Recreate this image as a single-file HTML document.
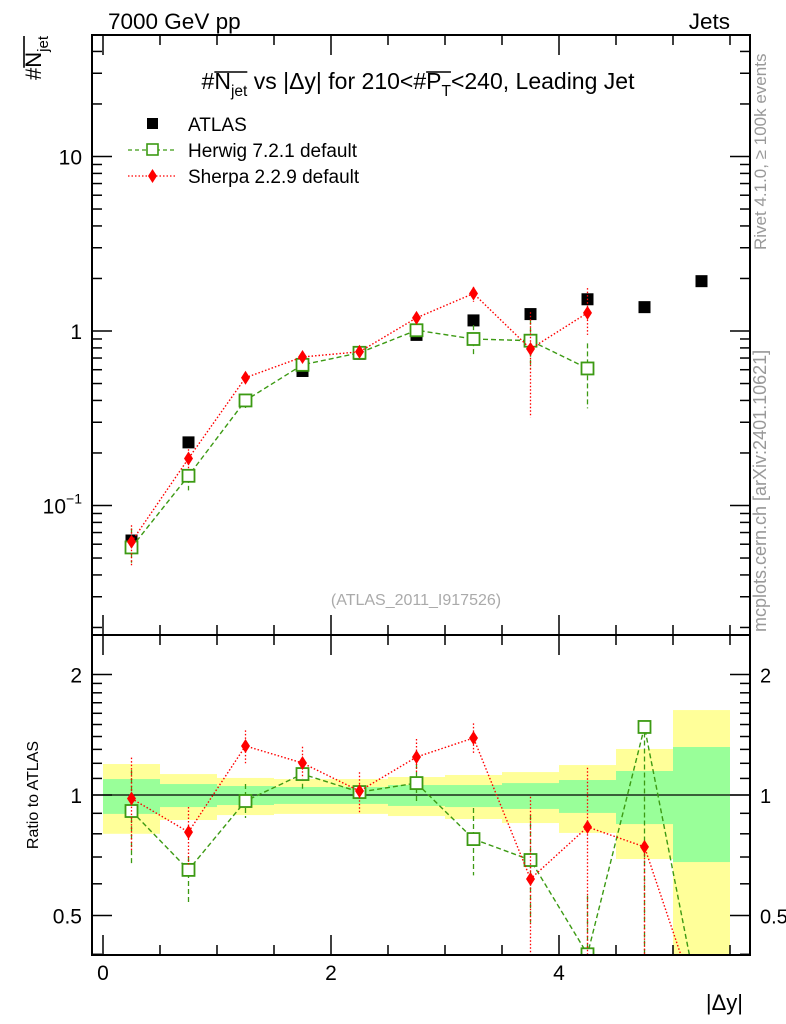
<!DOCTYPE html>
<html><head><meta charset="utf-8"><style>
body{margin:0;background:#fff}
svg{display:block;font-family:"Liberation Sans",sans-serif}
</style></head><body>
<svg id="c" width="786" height="1024" viewBox="0 0 786 1024" xmlns="http://www.w3.org/2000/svg">
<defs>
<clipPath id="cm"><rect x="92" y="35" width="658" height="600"/></clipPath>
<clipPath id="cr"><rect x="92" y="635" width="658" height="320"/></clipPath>
</defs>
<g id="bands" clip-path="url(#cr)"></g>
<g id="main" clip-path="url(#cm)"></g>
<g id="ratio" clip-path="url(#cr)"></g>
<g id="axes"></g>
<text x="108" y="29" font-size="22.5">7000 GeV pp</text>
<text x="730" y="29" font-size="22.5" text-anchor="end">Jets</text>
<text id="title" x="418" y="89" font-size="23" text-anchor="middle">#<tspan class="ol">N</tspan><tspan font-size="15.5" dy="7">jet</tspan><tspan dy="-7"> vs |Δy| for 210&lt;#</tspan><tspan class="ol">P</tspan><tspan font-size="15.5" dy="7">T</tspan><tspan dy="-7">&lt;240, Leading Jet</tspan></text>
<text id="ytitle" transform="translate(41,80) rotate(-90)" font-size="22">#<tspan class="ol">N</tspan><tspan font-size="15" dy="7">jet</tspan></text>
<text transform="translate(38,795) rotate(-90)" font-size="16" text-anchor="middle">Ratio to ATLAS</text>
<text x="743" y="1010" font-size="22" text-anchor="end">|Δy|</text>
<text transform="translate(766,250) rotate(-90)" font-size="17" fill="#999">Rivet 4.1.0, ≥ 100k events</text>
<text transform="translate(766,632) rotate(-90)" font-size="18" fill="#999">mcplots.cern.ch [arXiv:2401.10621]</text>
<text x="416" y="605" font-size="16" fill="#aaa" text-anchor="middle">(ATLAS_2011_I917526)</text>
<g>
<rect x="147" y="118" width="11" height="11" fill="#000"/>
<text x="188" y="131" font-size="19">ATLAS</text>
<line x1="128" y1="150" x2="176" y2="150" stroke="#3c9a13" stroke-width="1.3" stroke-dasharray="4,3"/>
<rect x="147" y="144" width="11" height="11" fill="#fff" stroke="#3c9a13" stroke-width="1.6"/>
<text x="188" y="157" font-size="19">Herwig 7.2.1 default</text>
<line x1="128" y1="176" x2="176" y2="176" stroke="#f00" stroke-width="1.3" stroke-dasharray="1.5,2"/>
<path d="M152.5 169 L157 176 L152.5 183 L148 176 Z" fill="#f00"/>
<text x="188" y="183" font-size="19">Sherpa 2.2.9 default</text>
</g>
</svg>
<script>
const xCenters=[0.25,0.75,1.25,1.75,2.25,2.75,3.25,3.75,4.25,4.75,5.25];
const binEdges=[0,0.5,1,1.5,2,2.5,3,3.5,4,4.5,5,5.5];
const atlasVals=[0.063,0.23,0.40,0.59,0.74,0.95,1.15,1.25,1.52,1.37,1.93];
const herwigVals=[0.0575,0.148,0.40,0.64,0.75,1.01,0.90,0.88,0.61];
const herwigHi=[0.074,0.16,0.43,0.67,0.80,1.05,1.08,1.16,0.85];
const herwigLo=[0.047,0.122,0.35,0.61,0.70,0.96,0.73,0.61,0.36];
const sherpaVals=[0.062,0.186,0.54,0.71,0.76,1.19,1.64,0.79,1.27];
const sherpaHi=[0.077,0.21,0.58,0.75,0.81,1.28,1.79,1.28,1.76];
const sherpaLo=[0.045,0.16,0.50,0.66,0.70,1.10,1.47,0.32,0.95];
const herwigRatio=[0.912,0.65,0.966,1.128,1.017,1.071,0.776,0.688,0.40,1.479,0.28];
const herwigRatioHi=[1.154,0.70,1.065,1.17,1.05,1.195,0.928,0.89,0.56,1.5,0.3];
const herwigRatioLo=[0.676,0.537,0.876,1.035,0.98,0.95,0.63,0.48,0.3,0.3,0.25];
const sherpaRatio=[0.98,0.808,1.326,1.202,1.023,1.244,1.388,0.617,0.832,0.742,0.28];
const sherpaRatioHi=[1.24,0.933,1.45,1.32,1.14,1.38,1.51,0.99,1.17,0.74,0.3];
const sherpaRatioLo=[0.72,0.67,1.2,1.1,0.9,1.13,1.26,0.3,0.3,0.3,0.25];
const yellowHi=[1.195,1.128,1.103,1.096,1.096,1.109,1.122,1.141,1.188,1.303,1.63];
const yellowLo=[0.80,0.866,0.891,0.897,0.897,0.886,0.871,0.851,0.804,0.692,0.3];
const greenHi=[1.096,1.065,1.053,1.047,1.047,1.059,1.059,1.071,1.09,1.148,1.318];
const greenLo=[0.897,0.933,0.944,0.95,0.95,0.939,0.933,0.923,0.902,0.846,0.68];
const xTickLabels=["0","2","4"];
const xTickVals=[0,2,4];
const yTickLabels=["10","1"];
const yTickVals=[10,1];
const ratioTickLabels=["2","1","0.5"];
const ratioTickVals=[2,1,0.5];

const NS="http://www.w3.org/2000/svg";
const X=v=>103+114*v;
const Y=v=>331-174.5*Math.log10(v);
const R=v=>795-120.5*Math.log2(v);
function mk(parent,tag,attrs){const e=document.createElementNS(NS,tag);for(const k in attrs)e.setAttribute(k,attrs[k]);(typeof parent==='string'?document.getElementById(parent):parent).appendChild(e);return e;}
const G="#3c9a13";
for(let i=0;i<yellowHi.length;i++){
 const x0=X(binEdges[i]),x1=X(binEdges[i+1]);
 let e=mk('bands','rect',{x:x0,y:R(yellowHi[i]),width:x1-x0,height:R(yellowLo[i])-R(yellowHi[i]),fill:'#ffff99'});
 
 
 e=mk('bands','rect',{x:x0,y:R(greenHi[i]),width:x1-x0,height:R(greenLo[i])-R(greenHi[i]),fill:'#99ff99'});
 
 
}
mk('bands','line',{x1:92,x2:750,y1:R(1),y2:R(1),stroke:'#000','stroke-width':1.3});
function series(g,vals,hi,lo,fy,col,dash,kind,name){
 const n=vals.length;
 let d='';for(let i=0;i<n;i++)d+=(i?'L':'M')+X(xCenters[i])+' '+fy(vals[i]);
 let p=mk(g,'path',{d:d,fill:'none',stroke:col,'stroke-width':1.4,'stroke-dasharray':dash});
 
 
 for(let i=0;i<n;i++){
  const x=X(xCenters[i]);
  let l=mk(g,'line',{x1:x,x2:x,y1:fy(hi[i]),y2:fy(lo[i]),stroke:col,'stroke-width':1.3,'stroke-dasharray':dash});
  
  
  const y=fy(vals[i]);
  let m;
  if(kind==='sq'){m=mk(g,'rect',{x:x-6,y:y-6,width:12,height:12,fill:'#fff',stroke:col,'stroke-width':1.8});}
  else {m=mk(g,'path',{d:`M${x} ${y-7}L${x+4.5} ${y}L${x} ${y+7}L${x-4.5} ${y}Z`,fill:col});}
  
  
 }
}
for(let i=0;i<atlasVals.length;i++){
 const e=mk('main','rect',{x:X(xCenters[i])-6,y:Y(atlasVals[i])-6,width:12,height:12,fill:'#000'});
 
 
}
series('main',herwigVals,herwigHi,herwigLo,Y,G,'5,3','sq','herwig');
series('main',sherpaVals,sherpaHi,sherpaLo,Y,'#f00','1.5,2','di','sherpa');
series('ratio',herwigRatio,herwigRatioHi,herwigRatioLo,R,G,'5,3','sq','herwig-ratio');
series('ratio',sherpaRatio,sherpaRatioHi,sherpaRatioLo,R,'#f00','1.5,2','di','sherpa-ratio');
let f=mk('axes','rect',{x:92,y:35,width:658,height:600,fill:'none',stroke:'#000','stroke-width':2});


f=mk('axes','rect',{x:92,y:635,width:658,height:320,fill:'none',stroke:'#000','stroke-width':2});


function tick(x1,y1,x2,y2){mk('axes','line',{x1,y1,x2,y2,stroke:'#000','stroke-width':1.5});}
for(let v=0;v<=5.5;v+=0.5){const x=X(v);const maj=(v%2===0);const L=maj?20:10;
 tick(x,955,x,955-L);tick(x,635,x,635-L);tick(x,635,x,635+L);tick(x,35,x,35+L);}
xTickVals.forEach((v,i)=>{const t=mk('axes','text',{x:X(v),y:980,'font-size':21,'text-anchor':'middle'});t.textContent=xTickLabels[i];
 
 });
for(let e=-2;e<=1;e++){for(let k=1;k<=9;k++){const v=k*Math.pow(10,e);const y=Y(v);if(y<35||y>635)continue;const L=k===1?20:10;
 tick(92,y,92+L,y);tick(750,y,750-L,y);}}
yTickVals.forEach((v,i)=>{const t=mk('axes','text',{x:82,y:Y(v)+8,'font-size':21,'text-anchor':'end'});t.textContent=yTickLabels[i];
 
 });
let t=mk('axes','text',{x:82,y:Y(0.1)+8,'font-size':21,'text-anchor':'end'});
t.innerHTML='10<tspan font-size="14" dy="-10">−1</tspan>';


[0.4,0.5,0.6,0.7,0.8,0.9,1,1.1,1.2,1.3,1.4,1.5,1.6,1.7,1.8,1.9,2].forEach(v=>{const y=R(v);if(y<635||y>955)return;const L=(v===1||v===2||v===0.5)?20:10;
 tick(92,y,92+L,y);tick(750,y,750-L,y);});
ratioTickVals.forEach((v,i)=>{let t=mk('axes','text',{x:82,y:R(v)+8,'font-size':21,'text-anchor':'end'});t.textContent=ratioTickLabels[i];
 
 
 t=mk('axes','text',{x:760,y:R(v)+8,'font-size':20});t.textContent=ratioTickLabels[i];
 
 });
document.querySelectorAll('text').forEach(txt=>{
 const ols=txt.querySelectorAll('tspan.ol');
 ols.forEach(ts=>{
  try{
   const sub=ts.nextElementSibling;
   const s=ts.getStartPositionOfChar(0);
   const e=sub.getEndPositionOfChar(sub.textContent.length-1);
   const dy=17;
   const ln=document.createElementNS(NS,'line');
   ln.setAttribute('x1',s.x);ln.setAttribute('x2',e.x);
   ln.setAttribute('y1',s.y-dy);ln.setAttribute('y2',s.y-dy);
   ln.setAttribute('stroke','#000');ln.setAttribute('stroke-width','1.6');
   txt.parentNode.insertBefore(ln,txt);
   if(txt.getAttribute('transform'))ln.setAttribute('transform',txt.getAttribute('transform'));
  }catch(err){}
 });
});
</script>
</body></html>
